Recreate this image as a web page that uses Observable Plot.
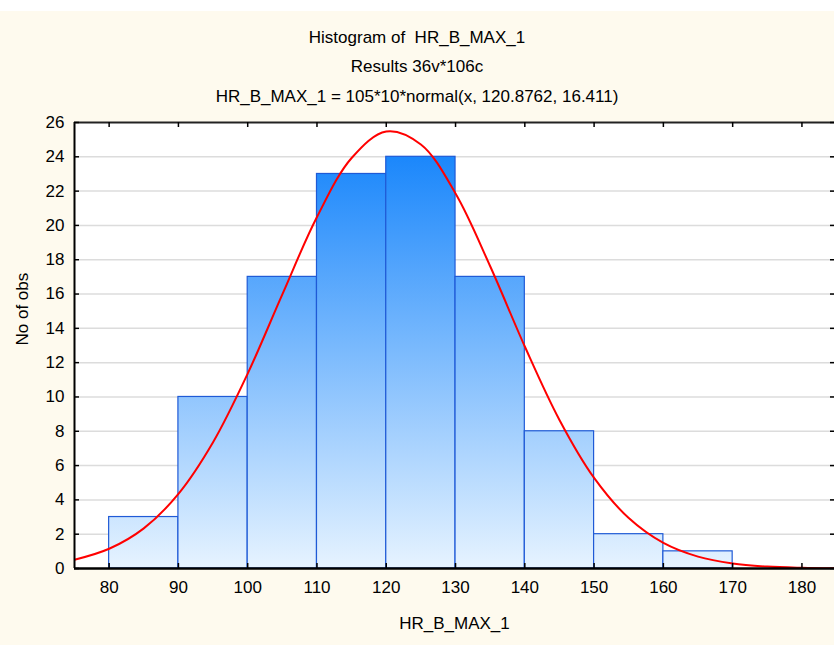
<!DOCTYPE html>
<html><head><meta charset="utf-8">
<script src="https://cdn.jsdelivr.net/npm/d3@7"></script>
<script src="https://cdn.jsdelivr.net/npm/@observablehq/plot@0.6"></script>
<style>
html,body{margin:0;padding:0;overflow:hidden;}
body{background:#fefaee;font-family:"Liberation Sans",Arial,sans-serif;width:834px;height:645px;}
#band{height:11px;background:#ffffff;}
#titles{height:99px;position:relative;}
.t{position:absolute;left:0;width:834px;text-align:center;font-size:17px;line-height:19px;color:#000;white-space:pre;}
#chart svg{display:block;}
</style></head>
<body>
<div id="band"></div>
<div id="titles">
<div class="t" style="top:17px">Histogram of  HR_B_MAX_1</div>
<div class="t" style="top:46px">Results 36v*106c</div>
<div class="t" style="top:76px">HR_B_MAX_1 = 105*10*normal(x, 120.8762, 16.411)</div>
</div>
<div id="chart"></div>
<script>
// Histogram bins
const binStart = [80, 90, 100, 110, 120, 130, 140, 150, 160];
const binEnd   = [90, 100, 110, 120, 130, 140, 150, 160, 170];
const counts   = [3, 10, 17, 23, 24, 17, 8, 2, 1];

// Fitted normal curve
const curveX = [75, 80, 85, 90, 95, 100, 105, 110, 115, 120, 125, 130, 135, 140, 145, 150, 155, 160, 165, 170, 175, 180, 185];
const curveY = [0.51, 1.15, 2.34, 4.35, 7.36, 11.36, 15.98, 20.49, 23.93, 25.48, 24.72, 21.86, 17.62, 12.94, 8.66, 5.28, 2.94, 1.49, 0.69, 0.29, 0.11, 0.04, 0.01];

const xTicks = [80, 90, 100, 110, 120, 130, 140, 150, 160, 170, 180];
const yTicks = [0, 2, 4, 6, 8, 10, 12, 14, 16, 18, 20, 22, 24, 26];

const bars = binStart.map((s, i) => ({x1: s, x2: binEnd[i], y: counts[i]}));
const curve = curveX.map((x, i) => ({x, y: curveY[i]}));

const svg = Plot.plot({
  width: 834,
  height: 535,
  marginTop: 12,
  marginBottom: 77,
  marginLeft: 74,
  marginRight: 0,
  style: {background: "transparent", fontFamily: "'Liberation Sans', Arial, sans-serif", color: "#000"},
  x: {domain: [75, 184.7], axis: null},
  y: {domain: [0, 26], axis: null},
  marks: [
    Plot.frame({fill: "#ffffff", stroke: "none"}),
    Plot.gridY(yTicks.filter(d => d > 0 && d < 26), {stroke: "#dcdcdc", strokeOpacity: 1, strokeWidth: 1.5, insetLeft: 5}),
    Plot.rectY(bars, {x1: "x1", x2: "x2", y: "y", fill: "url(#barGrad)", stroke: "#1f5ad6", strokeWidth: 1.2}),
    Plot.line(curve, {x: "x", y: "y", stroke: "#ff0000", strokeWidth: 2, curve: "catmull-rom", clip: true}),
    Plot.ruleX([75], {stroke: "#000", strokeWidth: 2}),
    Plot.ruleY([26], {stroke: "#222", strokeWidth: 2}),
    Plot.ruleY([0], {stroke: "#000", strokeWidth: 2.5}),
    Plot.ruleX(xTicks, {x: d => d, stroke: "#000", strokeWidth: 1.5, insetBottom: 441}),
    Plot.ruleX(xTicks, {x: d => d, stroke: "#000", strokeWidth: 1.5, insetTop: 441}),
    Plot.ruleY(yTicks, {y: d => d, stroke: "#000", strokeWidth: 1.5, insetRight: 755}),
    Plot.ruleY(yTicks, {y: d => d, stroke: "#000", strokeWidth: 1.5, insetLeft: 756}),
    Plot.axisY(yTicks, {tickSize: 0, tickPadding: 10, fontSize: 17, label: null}),
    Plot.axisX(xTicks, {tickSize: 0, tickPadding: 12, fontSize: 17, label: null}),
    Plot.text(["No of obs"], {frameAnchor: "left", dx: -52, rotate: -90, fontSize: 17, fill: "#000"}),
    Plot.text(["HR_B_MAX_1"], {frameAnchor: "bottom", dy: 60, fontSize: 17, fill: "#000"})
  ]
});

// Vertical gradient across the plot area, tied to the y scale
const ys = svg.scale("y");
const yTop = ys.apply(26), yBot = ys.apply(0);
const defs = d3.select(svg).insert("defs", ":first-child");
const grad = defs.append("linearGradient")
  .attr("id", "barGrad")
  .attr("gradientUnits", "userSpaceOnUse")
  .attr("x1", 0).attr("x2", 0)
  .attr("y1", yTop).attr("y2", yBot);
grad.append("stop").attr("offset", 0).attr("stop-color", "#0a7efb");
grad.append("stop").attr("offset", 1).attr("stop-color", "#e6f3ff");

document.getElementById("chart").appendChild(svg);
</script>
</body></html>
